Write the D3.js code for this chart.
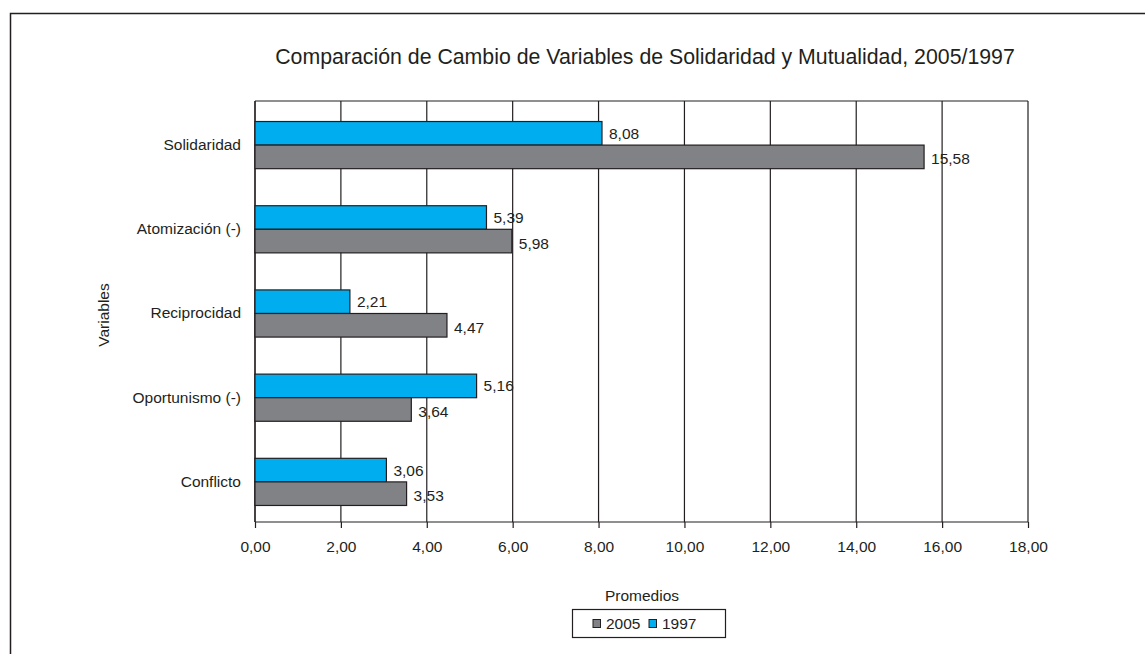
<!DOCTYPE html>
<html>
<head>
<meta charset="utf-8">
<script src="https://cdn.jsdelivr.net/npm/d3@7"></script>
<style>
  body { margin: 0; background: #fff; }
  text { font-family: "Liberation Sans", Arial, sans-serif; fill: #231f20; }
</style>
</head>
<body>
<div id="graph-area"></div>
<script>
var categories = ["Solidaridad", "Atomización (-)", "Reciprocidad", "Oportunismo (-)", "Conflicto"];
var values1997 = [8.08, 5.39, 2.21, 5.16, 3.06];
var values2005 = [15.58, 5.98, 4.47, 3.64, 3.53];
var seriesNames = ["2005", "1997"];
var xTicks = [0, 2, 4, 6, 8, 10, 12, 14, 16, 18];

var width = 1145, height = 654,
    plot = {left: 255, right: 1028, top: 101, bottom: 522},
    blue = "#00aeef", grey = "#808285", ink = "#231f20",
    fs = "15.5px";

var fmt = function(v) { return v.toFixed(2).replace(".", ","); };

var svg = d3.select("#graph-area").append("svg")
    .attr("width", width)
    .attr("height", height);

// outer frame (runs off the page right and bottom)
svg.append("rect")
    .attr("x", 10.5).attr("y", 13.5)
    .attr("width", 1200).attr("height", 700)
    .attr("fill", "none").attr("stroke", ink).attr("stroke-width", 1.5);

var x = d3.scaleLinear().domain([0, 18]).range([plot.left, plot.right]);

// bands sit a touch lower than the frame, like the original
var y = d3.scaleBand()
    .domain(categories)
    .range([plot.top + 2, plot.bottom + 2])
    .paddingInner(0.44)
    .paddingOuter(0.22);

var sub = d3.scaleBand()
    .domain(["1997", "2005"])
    .range([0, y.bandwidth()]);

svg.append("text")
    .attr("x", 645).attr("y", 64)
    .attr("text-anchor", "middle")
    .attr("font-size", "21.3px")
    .text("Comparación de Cambio de Variables de Solidaridad y Mutualidad, 2005/1997");

// gridlines
svg.selectAll(".grid")
    .data(xTicks)
    .enter().append("line")
    .attr("class", "grid")
    .attr("x1", function(d) { return x(d); })
    .attr("x2", function(d) { return x(d); })
    .attr("y1", plot.top).attr("y2", plot.bottom)
    .attr("stroke", ink).attr("stroke-width", 1.2);

svg.append("line")
    .attr("x1", plot.left).attr("x2", plot.right)
    .attr("y1", plot.top).attr("y2", plot.top)
    .attr("stroke", ink).attr("stroke-width", 1.2);

// x axis
var xAxis = d3.axisBottom(x)
    .tickValues(xTicks)
    .tickSize(6)
    .tickPadding(13)
    .tickFormat(fmt);

var gx = svg.append("g")
    .attr("transform", "translate(0," + plot.bottom + ")")
    .call(xAxis);
gx.select(".domain").attr("stroke", ink).attr("stroke-width", 1.2)
    .attr("d", "M" + plot.left + ",0H" + plot.right);
gx.selectAll(".tick line").attr("stroke", ink).attr("stroke-width", 1.2);
gx.selectAll(".tick text")
    .attr("font-size", fs)
    .attr("font-family", "Liberation Sans, Arial, sans-serif")
    .attr("fill", ink);

// y category labels
var gy = svg.append("g")
    .attr("transform", "translate(" + plot.left + ",0)")
    .call(d3.axisLeft(y).tickSize(0).tickPadding(14));
gy.select(".domain").attr("stroke", ink).attr("stroke-width", 1.2)
    .attr("d", "M0," + plot.top + "V" + plot.bottom);
gy.selectAll(".tick text")
    .attr("font-size", fs)
    .attr("font-family", "Liberation Sans, Arial, sans-serif")
    .attr("fill", ink);

// bars
var rows = categories.map(function(c, i) {
    return {cat: c, bars: [
        {name: "1997", value: values1997[i], color: blue},
        {name: "2005", value: values2005[i], color: grey}
    ]};
});

var groups = svg.selectAll(".row")
    .data(rows)
    .enter().append("g")
    .attr("class", "row")
    .attr("transform", function(d) { return "translate(0," + y(d.cat) + ")"; });

groups.selectAll("rect")
    .data(function(d) { return d.bars; })
    .enter().append("rect")
    .attr("x", x(0))
    .attr("y", function(d) { return sub(d.name); })
    .attr("width", function(d) { return x(d.value) - x(0); })
    .attr("height", sub.bandwidth())
    .attr("fill", function(d) { return d.color; })
    .attr("stroke", ink).attr("stroke-width", 1.2);

groups.selectAll(".lbl")
    .data(function(d) { return d.bars; })
    .enter().append("text")
    .attr("class", "lbl")
    .attr("x", function(d) { return x(d.value) + 7; })
    .attr("y", function(d) { return sub(d.name) + sub.bandwidth() / 2 + (d.name == "2005" ? 2 : 0); })
    .attr("dy", "0.35em")
    .attr("font-size", fs)
    .text(function(d) { return fmt(d.value); });

// axis titles
svg.append("text")
    .attr("transform", "translate(109,315) rotate(-90)")
    .attr("text-anchor", "middle")
    .attr("font-size", fs)
    .text("Variables");

svg.append("text")
    .attr("x", 642).attr("y", 601)
    .attr("text-anchor", "middle")
    .attr("font-size", fs)
    .text("Promedios");

// legend
var legend = svg.append("g").attr("transform", "translate(572,609)");
legend.append("rect")
    .attr("x", 0.5).attr("y", 0.5)
    .attr("width", 153).attr("height", 28)
    .attr("fill", "#fff").attr("stroke", ink).attr("stroke-width", 1.2);

var legendX = [21, 77];
seriesNames.forEach(function(s, i) {
    legend.append("rect")
        .attr("x", legendX[i]).attr("y", 10.5)
        .attr("width", 7.5).attr("height", 8)
        .attr("fill", s == "2005" ? grey : blue)
        .attr("stroke", ink).attr("stroke-width", 1);
    legend.append("text")
        .attr("x", legendX[i] + 13).attr("y", 20)
        .attr("font-size", fs)
        .text(s);
});
</script>
</body>
</html>
